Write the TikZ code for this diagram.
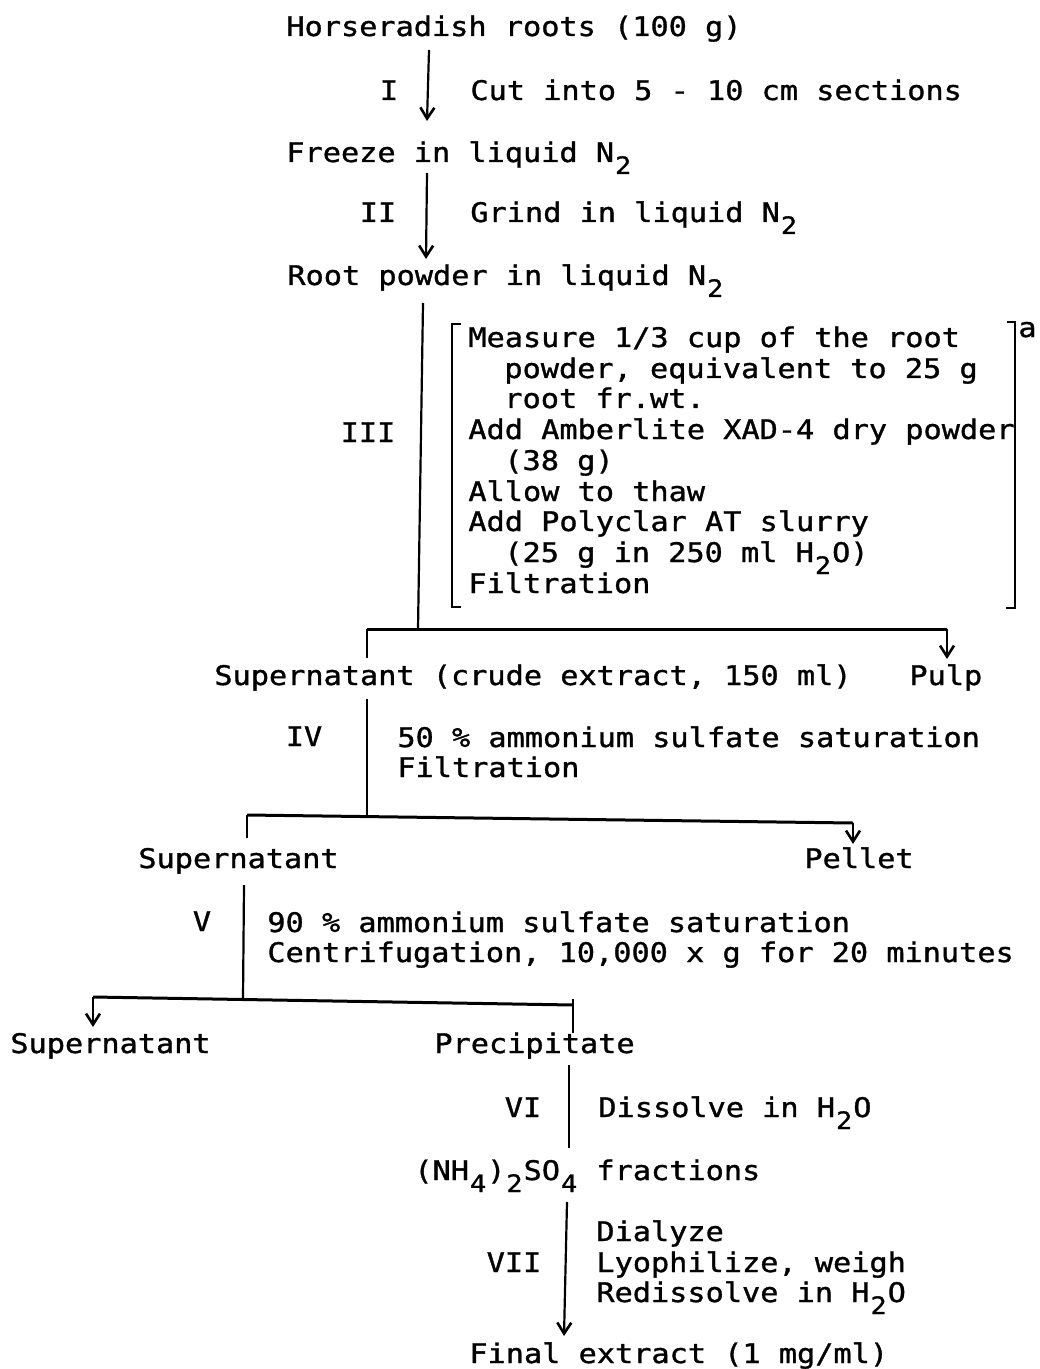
\documentclass[tikz,border=0pt]{standalone}
\usepackage{fontspec}
\usetikzlibrary{arrows.meta}
\newfontfamily\tw[FakeStretch=1.12,FakeBold=1.2]{DejaVu Sans Mono}
\newcommand\twfont{\tw\fontsize{13.5pt}{15pt}\selectfont}
\newlength\cellw
\newcommand\sbs[1]{\settowidth\cellw{0}\raisebox{-6pt}{\makebox[\cellw]{\fontsize{12pt}{13pt}\selectfont #1}}}
\begin{document}
\begin{tikzpicture}[x=0.5pt,y=-0.5pt,
  txt/.style={font=\twfont, inner sep=0pt, anchor=base west},
  lbl/.style={font=\twfont, inner sep=0pt, anchor=base},
  ln/.style={line width=1.1pt},
  brl/.style={line width=1.5pt},
  arr/.style={-{Straight Barb[length=5.5pt,width=7pt,line width=1.3pt]}}]
\useasboundingbox (0,0) rectangle (1039,1369);
% ---------- texts ----------
\node[txt] (horse) at (286,36) {Horseradish roots (100 g)};
\node[lbl] (lI) at (389,100) {I};
\node[txt] (cut) at (470,100) {Cut into 5 - 10 cm sections};
\node[txt] (freeze) at (286,162) {Freeze in liquid N\sbs{2}};
\node[lbl] (lII) at (378,222) {II};
\node[txt] (grind) at (470,222) {Grind in liquid N\sbs{2}};
\node[txt] (rootp) at (287,285) {Root powder in liquid N\sbs{2}};
\node[lbl] (lIII) at (368,442) {III};
\node[txt] (m1) at (468,347) {Measure 1/3 cup of the root};
\node[txt] (m2) at (504,378) {powder, equivalent to 25 g};
\node[txt] (m3) at (504,408) {root fr.wt.};
\node[txt] (m4) at (468,439) {Add Amberlite XAD-4 dry powder};
\node[txt] (m5) at (504,470) {(38 g)};
\node[txt] (m6) at (468,501) {Allow to thaw};
\node[txt] (m7) at (468,531) {Add Polyclar AT slurry};
\node[txt] (m8) at (504,562) {(25 g in 250 ml H\sbs{2}O)};
\node[txt] (m9) at (468,593) {Filtration};
\node[txt] (fa) at (1018,337) {a};
\node[txt] (sup1) at (214,685) {Supernatant (crude extract, 150 ml)};
\node[txt] (pulp) at (909,685) {Pulp};
\node[lbl] (lIV) at (304,746) {IV};
\node[txt] (s41) at (397,747) {50 \% ammonium sulfate saturation};
\node[txt] (s42) at (397,777) {Filtration};
\node[txt] (sup2) at (138,868) {Supernatant};
\node[txt] (pellet) at (804,868) {Pellet};
\node[lbl] (lV) at (202,931) {V};
\node[txt] (s51) at (267,932) {90 \% ammonium sulfate saturation};
\node[txt] (s52) at (267,962) {Centrifugation, 10,000 x g for 20 minutes};
\node[txt] (sup3) at (10,1053) {Supernatant};
\node[txt] (prec) at (434,1053) {Precipitate};
\node[lbl] (lVI) at (523,1117) {VI};
\node[txt] (diss) at (598,1117) {Dissolve in H\sbs{2}O};
\node[txt] (frac) at (414,1180) {(NH\sbs{4})\sbs{2}SO\sbs{4} fractions};
\node[lbl] (lVII) at (514,1272) {VII};
\node[txt] (d1) at (596,1241) {Dialyze};
\node[txt] (d2) at (596,1272) {Lyophilize, weigh};
\node[txt] (d3) at (596,1302) {Redissolve in H\sbs{2}O};
\node[txt] (final) at (469,1363) {Final extract (1 mg/ml)};
% ---------- coordinates ----------
\coordinate (aIs) at (429,50);   \coordinate (aIe) at (427,121);
\coordinate (aIIs) at (427,173); \coordinate (aIIe) at (426,259);
\coordinate (aIIIs) at (423,303); \coordinate (aIIIe) at (418,629);
\coordinate (b1l) at (367,629);  \coordinate (b1r) at (947,629);
\coordinate (b1ld) at (367,658); \coordinate (b1rd) at (947,659);
\coordinate (aIVs) at (367,699); \coordinate (aIVe) at (367,817);
\coordinate (b2l) at (247,815);  \coordinate (b2r) at (853,823);
\coordinate (b2ld) at (247,838); \coordinate (b2rd) at (853,844);
\coordinate (aVs) at (244,885);  \coordinate (aVe) at (243,999);
\coordinate (b3l) at (93,997);   \coordinate (b3r) at (573,1005);
\coordinate (b3ld) at (93,1027); \coordinate (b3rt) at (573,999);
\coordinate (b3rd) at (573,1033);
\coordinate (aVIs) at (569,1065); \coordinate (aVIe) at (569,1148);
\coordinate (aVIIs) at (567,1202); \coordinate (aVIIe) at (564,1336);
% ---------- connectors ----------
\draw[ln,arr] (aIs) -- (aIe);
\draw[ln,arr] (aIIs) -- (aIIe);
\draw[ln] (aIIIs) -- (aIIIe);
\draw[brl] (b1l) -- (b1r);
\draw[ln] (b1l) -- (b1ld);
\draw[ln,arr] (b1r) -- (b1rd);
\draw[ln] (aIVs) -- (aIVe);
\draw[brl] (b2l) -- (b2r);
\draw[ln] (b2l) -- (b2ld);
\draw[ln,arr] (b2r) -- (b2rd);
\draw[ln] (aVs) -- (aVe);
\draw[brl] (b3l) -- (b3r);
\draw[ln,arr] (b3l) -- (b3ld);
\draw[ln] (b3rt) -- (b3rd);
\draw[ln] (aVIs) -- (aVIe);
\draw[ln,arr] (aVIIs) -- (aVIIe);
% ---------- brackets ----------
\draw[ln] (461,324) -- (452,324) -- (452,607) -- (461,607);
\draw[ln] (1007,322) -- (1015,322) -- (1015,608) -- (1006,608);
\end{tikzpicture}
\end{document}
